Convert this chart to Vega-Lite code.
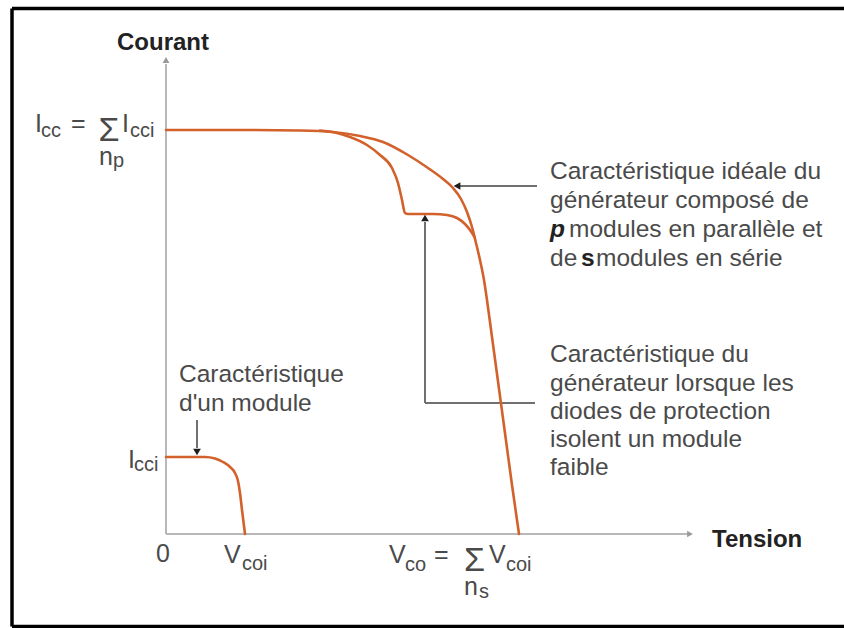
{
  "$schema": "https://vega.github.io/schema/vega-lite/v6.json",
  "width": 844,
  "height": 628,
  "padding": 0,
  "autosize": {"type": "none"},
  "background": "white",
  "config": {"view": {"stroke": null}},
  "datasets": {
    "curves": [
      {"curve": "ideale", "x": 0, "y": 40.4},
      {"curve": "ideale", "x": 8.4, "y": 40.4},
      {"curve": "ideale", "x": 13.4, "y": 40.35},
      {"curve": "ideale", "x": 16.7, "y": 40.2},
      {"curve": "ideale", "x": 19.4, "y": 39.8},
      {"curve": "ideale", "x": 21.7, "y": 39.2},
      {"curve": "ideale", "x": 24.2, "y": 37.9},
      {"curve": "ideale", "x": 26.2, "y": 36.6},
      {"curve": "ideale", "x": 27.7, "y": 35.5},
      {"curve": "ideale", "x": 28.7, "y": 34.6},
      {"curve": "ideale", "x": 29.5, "y": 33.5},
      {"curve": "ideale", "x": 30.1, "y": 32.2},
      {"curve": "ideale", "x": 30.6, "y": 30.7},
      {"curve": "ideale", "x": 31.0, "y": 29.1},
      {"curve": "ideale", "x": 31.4, "y": 27.4},
      {"curve": "ideale", "x": 31.8, "y": 25.4},
      {"curve": "ideale", "x": 32.1, "y": 23.4},
      {"curve": "ideale", "x": 32.6, "y": 19.7},
      {"curve": "ideale", "x": 33.1, "y": 16.0},
      {"curve": "ideale", "x": 33.6, "y": 12.3},
      {"curve": "ideale", "x": 34.1, "y": 8.6},
      {"curve": "ideale", "x": 34.6, "y": 4.9},
      {"curve": "ideale", "x": 35.3, "y": 0},
      {"curve": "faible", "x": 15.4, "y": 40.35},
      {"curve": "faible", "x": 16.9, "y": 40.15},
      {"curve": "faible", "x": 18.4, "y": 39.7},
      {"curve": "faible", "x": 20.1, "y": 38.9},
      {"curve": "faible", "x": 21.4, "y": 37.9},
      {"curve": "faible", "x": 22.6, "y": 36.6},
      {"curve": "faible", "x": 23.2, "y": 35.1},
      {"curve": "faible", "x": 23.6, "y": 33.4},
      {"curve": "faible", "x": 23.9, "y": 32.1},
      {"curve": "faible", "x": 24.2, "y": 32.0},
      {"curve": "faible", "x": 26.7, "y": 32.0},
      {"curve": "faible", "x": 28.1, "y": 31.9},
      {"curve": "faible", "x": 29.1, "y": 31.6},
      {"curve": "faible", "x": 29.9, "y": 31.0},
      {"curve": "faible", "x": 30.4, "y": 30.4},
      {"curve": "faible", "x": 30.85, "y": 29.7},
      {"curve": "module", "x": 0, "y": 7.7},
      {"curve": "module", "x": 3.9, "y": 7.7},
      {"curve": "module", "x": 4.9, "y": 7.55},
      {"curve": "module", "x": 5.7, "y": 7.2},
      {"curve": "module", "x": 6.4, "y": 6.7},
      {"curve": "module", "x": 6.9, "y": 6.1},
      {"curve": "module", "x": 7.2, "y": 5.3},
      {"curve": "module", "x": 7.4, "y": 4.1},
      {"curve": "module", "x": 7.6, "y": 2.4},
      {"curve": "module", "x": 7.9, "y": 0}
    ],
    "frame": [
      {"x": -15.4, "y": -9.25, "x2": -15.4, "y2": 52.55},
      {"x": -15.4, "y": 52.55, "x2": 67.8, "y2": 52.55},
      {"x": -15.4, "y": -9.25, "x2": 67.8, "y2": -9.25}
    ],
    "axes": [
      {"x": 0, "y": 0, "x2": 52.2, "y2": 0},
      {"x": 0, "y": 0, "x2": 0, "y2": 47.0}
    ],
    "axisArrows": [
      {"x": 52.4, "y": 0, "dir": "right"},
      {"x": 0, "y": 47.4, "dir": "up"}
    ],
    "leaders": [
      {"x": 37.1, "y": 34.8, "x2": 29.4, "y2": 34.8},
      {"x": 25.9, "y": 13.1, "x2": 25.9, "y2": 31.2},
      {"x": 25.9, "y": 13.1, "x2": 36.9, "y2": 13.1},
      {"x": 3.1, "y": 11.4, "x2": 3.1, "y2": 8.6}
    ],
    "leaderArrows": [
      {"x": 29.1, "y": 34.8, "dir": "left"},
      {"x": 25.9, "y": 31.6, "dir": "up"},
      {"x": 3.1, "y": 8.2, "dir": "down"}
    ],
    "boldLabels": [
      {"text": "Courant", "x": -4.9, "y": 48.4},
      {"text": "Tension", "x": 54.6, "y": -1.3}
    ],
    "notes": [
      {"text": "Caractéristique idéale du", "x": 38.4, "y": 35.5},
      {"text": "générateur composé de", "x": 38.4, "y": 32.6},
      {"text": "modules en parallèle et", "x": 40.3, "y": 29.7},
      {"text": "de", "x": 38.4, "y": 26.8},
      {"text": "modules en série", "x": 43.0, "y": 26.8},
      {"text": "Caractéristique du", "x": 38.4, "y": 17.2},
      {"text": "générateur lorsque les", "x": 38.4, "y": 14.3},
      {"text": "diodes de protection", "x": 38.4, "y": 11.5},
      {"text": "isolent un module", "x": 38.4, "y": 8.7},
      {"text": "faible", "x": 38.4, "y": 5.9},
      {"text": "Caractéristique", "x": 1.3, "y": 15.2},
      {"text": "d'un module", "x": 1.3, "y": 12.3}
    ],
    "boldItalic": [
      {"text": "p", "x": 38.4, "y": 29.7}
    ],
    "boldInline": [
      {"text": "s", "x": 41.5, "y": 26.8}
    ],
    "mathMain": [
      {"text": "I", "x": -13.1, "y": 40.2},
      {"text": "=", "x": -9.5, "y": 40.2},
      {"text": "I", "x": -4.4, "y": 40.2},
      {"text": "n", "x": -6.7, "y": 36.9},
      {"text": "I", "x": -3.8, "y": 6.6},
      {"text": "0", "x": -1.0, "y": -2.8},
      {"text": "V", "x": 5.8, "y": -2.9},
      {"text": "V", "x": 22.3, "y": -2.9},
      {"text": "=", "x": 26.8, "y": -2.9},
      {"text": "V", "x": 32.3, "y": -2.9},
      {"text": "n", "x": 29.8, "y": -6.1}
    ],
    "sigma": [
      {"text": "Σ", "x": -6.75, "y": 39.35},
      {"text": "Σ", "x": 29.8, "y": -3.65}
    ],
    "mathSub": [
      {"text": "cc", "x": -12.5, "y": 39.7},
      {"text": "cci", "x": -3.6, "y": 39.7},
      {"text": "p", "x": -5.3, "y": 36.7},
      {"text": "cci", "x": -3.2, "y": 6.3},
      {"text": "coi", "x": 7.6, "y": -3.6},
      {"text": "co", "x": 23.9, "y": -3.7},
      {"text": "coi", "x": 34.0, "y": -3.7},
      {"text": "s", "x": 31.3, "y": -6.4}
    ]
  },
  "encoding": {
    "x": {"field": "x", "type": "quantitative", "scale": {"domain": [-16.6, 67.8], "nice": false, "zero": false}, "axis": null},
    "y": {"field": "y", "type": "quantitative", "scale": {"domain": [-9.4, 53.4], "nice": false, "zero": false}, "axis": null}
  },
  "layer": [
    {
      "data": {"name": "frame"},
      "mark": {"type": "rule", "color": "#000000", "strokeWidth": 3.5},
      "encoding": {"x2": {"field": "x2"}, "y2": {"field": "y2"}}
    },
    {
      "data": {"name": "axes"},
      "mark": {"type": "rule", "color": "#b8b8b8", "strokeWidth": 2},
      "encoding": {"x2": {"field": "x2"}, "y2": {"field": "y2"}}
    },
    {
      "data": {"name": "axisArrows"},
      "mark": {"type": "point", "filled": true, "color": "#9a9a9a", "size": 45, "opacity": 1},
      "encoding": {
        "shape": {"field": "dir", "type": "nominal", "scale": {"domain": ["right", "up", "left", "down"], "range": ["triangle-right", "triangle-up", "triangle-left", "triangle-down"]}, "legend": null}
      }
    },
    {
      "data": {"name": "leaders"},
      "mark": {"type": "rule", "color": "#707070", "strokeWidth": 2},
      "encoding": {"x2": {"field": "x2"}, "y2": {"field": "y2"}}
    },
    {
      "data": {"name": "curves"},
      "mark": {"type": "line", "color": "#d2612b", "strokeWidth": 2.6, "interpolate": "monotone", "strokeJoin": "round", "strokeCap": "round"},
      "encoding": {"detail": {"field": "curve", "type": "nominal"}}
    },
    {
      "data": {"name": "leaderArrows"},
      "mark": {"type": "point", "filled": true, "color": "#1e1e1e", "size": 60, "opacity": 1},
      "encoding": {
        "shape": {"field": "dir", "type": "nominal", "scale": {"domain": ["right", "up", "left", "down"], "range": ["triangle-right", "triangle-up", "triangle-left", "triangle-down"]}, "legend": null}
      }
    },
    {
      "data": {"name": "boldLabels"},
      "mark": {"type": "text", "align": "left", "baseline": "alphabetic", "font": "Liberation Sans", "fontSize": 24, "fontWeight": "bold", "color": "#222222"},
      "encoding": {"text": {"field": "text"}}
    },
    {
      "data": {"name": "notes"},
      "mark": {"type": "text", "align": "left", "baseline": "alphabetic", "font": "Liberation Sans", "fontSize": 24.5, "color": "#4a4a4a"},
      "encoding": {"text": {"field": "text"}}
    },
    {
      "data": {"name": "boldItalic"},
      "mark": {"type": "text", "align": "left", "baseline": "alphabetic", "font": "Liberation Sans", "fontSize": 24.5, "fontWeight": "bold", "fontStyle": "italic", "color": "#222222"},
      "encoding": {"text": {"field": "text"}}
    },
    {
      "data": {"name": "boldInline"},
      "mark": {"type": "text", "align": "left", "baseline": "alphabetic", "font": "Liberation Sans", "fontSize": 24.5, "fontWeight": "bold", "color": "#222222"},
      "encoding": {"text": {"field": "text"}}
    },
    {
      "data": {"name": "mathMain"},
      "mark": {"type": "text", "align": "left", "baseline": "alphabetic", "font": "Liberation Sans", "fontSize": 25, "color": "#4a4a4a"},
      "encoding": {"text": {"field": "text"}}
    },
    {
      "data": {"name": "sigma"},
      "mark": {"type": "text", "align": "left", "baseline": "alphabetic", "font": "Liberation Sans", "fontSize": 34, "color": "#4a4a4a"},
      "encoding": {"text": {"field": "text"}}
    },
    {
      "data": {"name": "mathSub"},
      "mark": {"type": "text", "align": "left", "baseline": "alphabetic", "font": "Liberation Sans", "fontSize": 20, "color": "#4a4a4a"},
      "encoding": {"text": {"field": "text"}}
    }
  ]
}
